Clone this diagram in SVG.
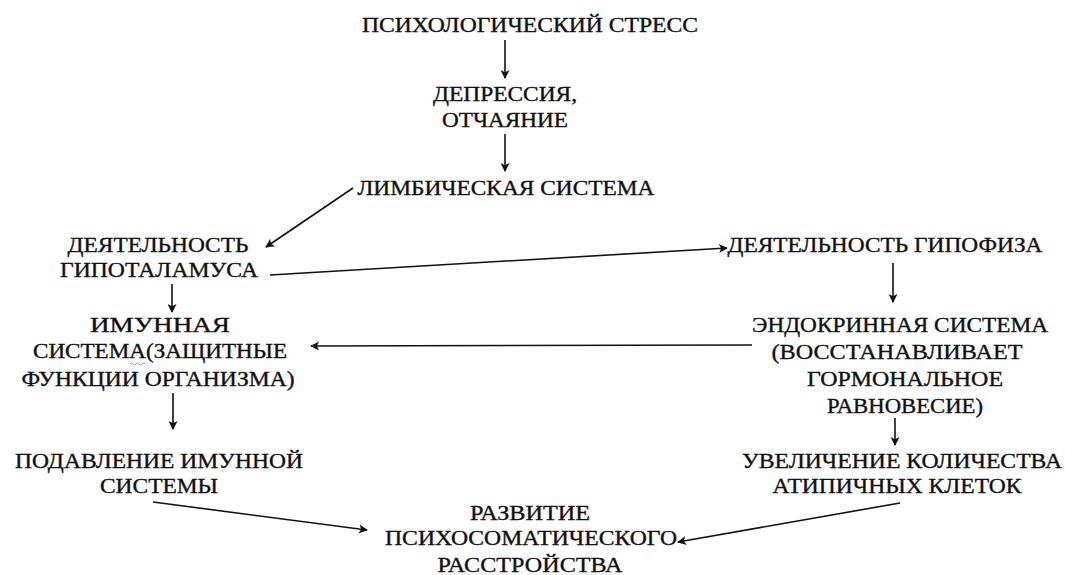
<svg xmlns="http://www.w3.org/2000/svg" width="1065" height="575" viewBox="0 0 1065 575">
<style>
text{font-family:"Liberation Serif","Times New Roman","DejaVu Serif",serif;font-size:21px;fill:#111;text-anchor:middle;stroke:#111;stroke-width:0.35}
.c{stroke:#111;stroke-width:1.6;fill:none}
</style>
<defs>
<marker id="ah" viewBox="0 0 10 10" refX="9" refY="5" markerWidth="11" markerHeight="9" markerUnits="userSpaceOnUse" orient="auto">
<path d="M0,0 L10,5 L0,10 L2.5,5 Z" fill="#111"/>
</marker>
</defs>
<rect width="1065" height="575" fill="#fff"/>
<g id="stress"><text x="530" y="32" textLength="336" lengthAdjust="spacingAndGlyphs">ПСИХОЛОГИЧЕСКИЙ СТРЕСС</text></g>
<g id="depression"><text x="505" y="101" textLength="144" lengthAdjust="spacingAndGlyphs">ДЕПРЕССИЯ,</text><text x="505" y="127" textLength="126" lengthAdjust="spacingAndGlyphs">ОТЧАЯНИЕ</text></g>
<g id="limbic"><text x="506" y="195" textLength="297" lengthAdjust="spacingAndGlyphs">ЛИМБИЧЕСКАЯ СИСТЕМА</text></g>
<g id="hypothalamus"><text x="158" y="252" textLength="181" lengthAdjust="spacingAndGlyphs">ДЕЯТЕЛЬНОСТЬ</text><text x="159" y="277" textLength="198" lengthAdjust="spacingAndGlyphs">ГИПОТАЛАМУСА</text></g>
<g id="immune"><text x="160" y="332" textLength="140" lengthAdjust="spacingAndGlyphs">ИМУННАЯ</text><text x="160" y="358" textLength="254" lengthAdjust="spacingAndGlyphs">СИСТЕМА(ЗАЩИТНЫЕ</text><text x="158" y="386" textLength="273" lengthAdjust="spacingAndGlyphs">ФУНКЦИИ ОРГАНИЗМА)</text>
<path d="M130,364 q1.5,-2 3,0 t3,0 t3,0 t3,0 t3,0" fill="none" stroke="#777" stroke-width="0.8"/></g>
<g id="hypophysis"><text x="885" y="252" textLength="315" lengthAdjust="spacingAndGlyphs">ДЕЯТЕЛЬНОСТЬ ГИПОФИЗА</text></g>
<g id="endocrine"><text x="900" y="332" textLength="296" lengthAdjust="spacingAndGlyphs">ЭНДОКРИННАЯ СИСТЕМА</text><text x="897" y="359" textLength="251" lengthAdjust="spacingAndGlyphs">(ВОССТАНАВЛИВАЕТ</text><text x="905" y="386" textLength="196" lengthAdjust="spacingAndGlyphs">ГОРМОНАЛЬНОЕ</text><text x="905" y="413" textLength="156" lengthAdjust="spacingAndGlyphs">РАВНОВЕСИЕ)</text></g>
<g id="suppression"><text x="159" y="468" textLength="288" lengthAdjust="spacingAndGlyphs">ПОДАВЛЕНИЕ ИМУННОЙ</text><text x="159" y="493" textLength="118" lengthAdjust="spacingAndGlyphs">СИСТЕМЫ</text></g>
<g id="atypical"><text x="902" y="468" textLength="320" lengthAdjust="spacingAndGlyphs">УВЕЛИЧЕНИЕ КОЛИЧЕСТВА</text><text x="897" y="493" textLength="249" lengthAdjust="spacingAndGlyphs">АТИПИЧНЫХ КЛЕТОК</text></g>
<g id="disorder"><text x="530" y="520" textLength="120" lengthAdjust="spacingAndGlyphs">РАЗВИТИЕ</text><text x="531" y="545" textLength="292" lengthAdjust="spacingAndGlyphs">ПСИХОСОМАТИЧЕСКОГО</text><text x="530" y="572" textLength="185" lengthAdjust="spacingAndGlyphs">РАССТРОЙСТВА</text></g>
<g id="connectors">
<line class="c" x1="505" y1="40" x2="505" y2="78" marker-end="url(#ah)"/>
<line class="c" x1="505" y1="134" x2="505" y2="171" marker-end="url(#ah)"/>
<line class="c" x1="353" y1="188" x2="266" y2="247" marker-end="url(#ah)"/>
<line class="c" x1="270" y1="275" x2="727" y2="248" marker-end="url(#ah)"/>
<line class="c" x1="172" y1="284" x2="172" y2="312" marker-end="url(#ah)"/>
<line class="c" x1="893" y1="263" x2="893" y2="302" marker-end="url(#ah)"/>
<line class="c" x1="752" y1="345" x2="311" y2="346" marker-end="url(#ah)"/>
<line class="c" x1="173" y1="393" x2="173" y2="429" marker-end="url(#ah)"/>
<line class="c" x1="895" y1="418" x2="895" y2="445" marker-end="url(#ah)"/>
<line class="c" x1="153" y1="502" x2="367" y2="530" marker-end="url(#ah)"/>
<line class="c" x1="900" y1="503" x2="678" y2="542" marker-end="url(#ah)"/>
</g>
</svg>
